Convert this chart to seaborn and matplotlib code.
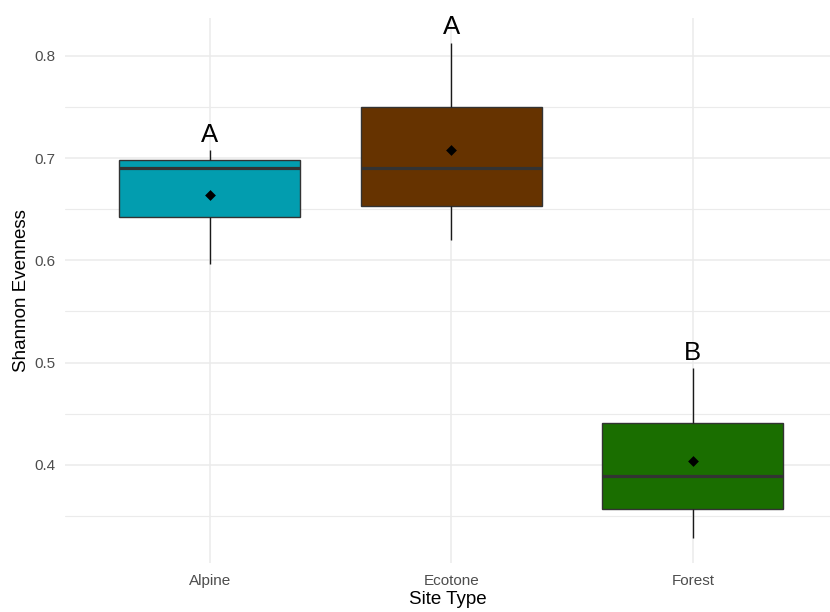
import numpy as np
import pandas as pd
import matplotlib
matplotlib.use("Agg")
import matplotlib.pyplot as plt
from matplotlib.ticker import MultipleLocator
import seaborn as sns

# Five-number summaries of Shannon evenness for each site type
sites = ["Alpine", "Ecotone", "Forest"]
mins = [0.596, 0.620, 0.328]
q1s = [0.642, 0.653, 0.357]
medians = [0.690, 0.690, 0.389]
q3s = [0.698, 0.750, 0.441]
maxs = [0.708, 0.813, 0.495]
means = [0.664, 0.708, 0.404]
letters = ["A", "A", "B"]
colors = ["#029DAF", "#663300", "#1A6E00"]

# Long table: five values per site reproduce the summary quartiles exactly
rows = []
for s, a, b, c, d, e in zip(sites, mins, q1s, medians, q3s, maxs):
    for v in (a, b, c, d, e):
        rows.append({"Site Type": s, "Shannon Evenness": v})
df = pd.DataFrame(rows)
mean_df = pd.DataFrame({"Site Type": sites, "mean": means})

sns.set_theme(style="whitegrid")
plt.rcParams["font.family"] = ["Liberation Sans", "DejaVu Sans"]

fig = plt.figure(figsize=(8.3, 6.12), dpi=100)
ax = fig.add_axes([65 / 830, 1 - 563 / 612, 1 - 65 / 830, (563 - 18) / 612])

sns.boxplot(
    data=df, x="Site Type", y="Shannon Evenness", hue="Site Type",
    order=sites, hue_order=sites, palette=colors, legend=False,
    whis=(0, 100), width=0.75, showcaps=False, saturation=1,
    linecolor="#333333", linewidth=1.0,
    boxprops=dict(edgecolor="#333333", linewidth=1.0),
    medianprops=dict(color="#333333", linewidth=2.3),
    whiskerprops=dict(color="#1a1a1a", linewidth=1.0),
    ax=ax, zorder=3,
)

sns.stripplot(
    data=mean_df, x="Site Type", y="mean", order=sites, jitter=False,
    marker="D", color="black", size=5.5, ax=ax, zorder=5,
)

for i, (top, lab) in enumerate(zip(maxs, letters)):
    ax.text(i, top + 0.003, lab, ha="center", va="bottom",
            fontsize=18.5, color="black", zorder=6)

ax.set_xlim(-0.6, 2.568)
ax.set_ylim(0.304, 0.837)
ax.yaxis.set_major_locator(MultipleLocator(0.1))
ax.yaxis.set_minor_locator(MultipleLocator(0.05))
ax.set_yticks([0.4, 0.5, 0.6, 0.7, 0.8])
ax.set_yticklabels(["0.4", "0.5", "0.6", "0.7", "0.8"])

ax.grid(True, which="major", color="#EBEBEB", linewidth=1.1)
ax.grid(True, which="minor", axis="y", color="#EBEBEB", linewidth=0.8)
ax.set_axisbelow(True)
for sp in ax.spines.values():
    sp.set_visible(False)

ax.tick_params(axis="both", which="both", length=0, labelsize=11,
               labelcolor="#4D4D4D")
ax.tick_params(axis="y", pad=7)
ax.tick_params(axis="x", pad=8)
ax.set_xlabel("Site Type", fontsize=13.5, color="black", labelpad=2)
ax.set_ylabel("Shannon Evenness", fontsize=13.5, color="black", labelpad=3)

fig.savefig("out.png", dpi=100, facecolor="white")
